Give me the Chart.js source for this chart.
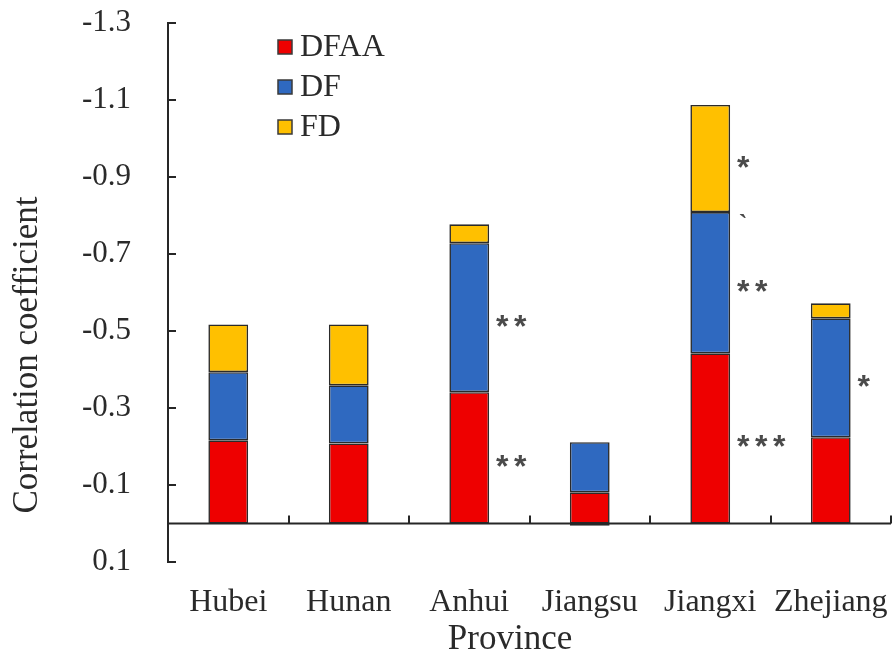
<!DOCTYPE html>
<html>
<head>
<meta charset="utf-8">
<title>Correlation coefficient by province</title>
<script src="https://cdn.jsdelivr.net/npm/chart.js@4/dist/chart.umd.min.js"></script>
<style>
  html, body { margin: 0; padding: 0; background: #ffffff; }
  #wrap { width: 893px; height: 656px; }
</style>
</head>
<body>
<div id="wrap"><canvas id="chart" width="893" height="656"></canvas></div>
<script>
// Provinces along the category axis
const provinces = ['Hubei', 'Hunan', 'Anhui', 'Jiangsu', 'Jiangxi', 'Zhejiang'];

// Correlation coefficient components, stacked from zero
const dfaa = [-0.216, -0.208, -0.341, -0.081, -0.442, -0.224];
const df   = [-0.177, -0.151, -0.387, -0.130, -0.367, -0.309];
const fd   = [-0.124, -0.158, -0.049,  0.006, -0.278, -0.039];

// Significance marks next to each segment
const sigDFAA = ['', '', '**', '', '***', ''];
const sigDF   = ['', '', '**', '', '**',  '*'];
const sigFD   = ['', '', '',   '', '*',   ''];
const edgeMarks = ['', '', '', '', '`', ''];

// Value axis tick labels (axis runs from 0.1 at the bottom to -1.3 at the top)
const yTicks = [0.1, -0.1, -0.3, -0.5, -0.7, -0.9, -1.1, -1.3];

const serif = '"Liberation Serif", "Times New Roman", serif';
const ink = '#262626';
const textInk = '#2a2a2a';

const sigByDataset = [sigDFAA, sigDF, sigFD];

// Axis lines, inner tick marks, zero line, legend, titles and significance marks
const decorations = {
  id: 'decorations',
  afterDatasetsDraw(chart) {
    const { ctx, chartArea: a, scales: { x, y } } = chart;
    ctx.save();

    ctx.strokeStyle = ink;
    ctx.lineWidth = 2;
    ctx.lineCap = 'butt';
    const y0 = y.getPixelForValue(0);
    ctx.beginPath();
    // vertical axis line
    ctx.moveTo(a.left, y.getPixelForValue(yTicks[yTicks.length - 1]) - 1);
    ctx.lineTo(a.left, y.getPixelForValue(yTicks[0]) + 1);
    // inner tick marks on the value axis
    yTicks.forEach(v => {
      const py = Math.round(y.getPixelForValue(v));
      ctx.moveTo(a.left, py);
      ctx.lineTo(a.left + 8, py);
    });
    // zero line acting as category axis
    ctx.moveTo(a.left, y0);
    ctx.lineTo(a.right, y0);
    // category separators pointing up
    for (let i = 0; i < provinces.length; i++) {
      const px = Math.round(x.getPixelForValue(i + 0.5));
      ctx.moveTo(px, y0);
      ctx.lineTo(px, y0 - 8);
    }
    ctx.stroke();

    // significance marks
    ctx.fillStyle = '#4a4a4a';
    ctx.font = 'bold 32px "Liberation Sans", Arial, sans-serif';
    ctx.textAlign = 'center';
    ctx.textBaseline = 'alphabetic';
    sigByDataset.forEach((marks, d) => {
      const meta = chart.getDatasetMeta(d);
      marks.forEach((m, j) => {
        if (!m) return;
        const el = meta.data[j];
        const cx = el.x + el.width / 2 + 13;
        const cy = (el.y + el.base) / 2;
        for (let k = 0; k < m.length; k++) {
          ctx.fillText(m[k], cx + k * 18, cy + 19);
        }
      });
    });
    // small mark at the DF / FD boundary
    const dfMeta = chart.getDatasetMeta(1);
    edgeMarks.forEach((m, j) => {
      if (!m) return;
      const el = dfMeta.data[j];
      ctx.font = 'bold 26px "Liberation Serif", serif';
      ctx.fillText(m, el.x + el.width / 2 + 13, el.y + 20);
    });

    // legend
    ctx.textAlign = 'left';
    ctx.textBaseline = 'middle';
    ctx.font = '32px ' + serif;
    chart.data.datasets.forEach((ds, i) => {
      const cy = 47 + i * 40;
      ctx.fillStyle = ds.backgroundColor;
      ctx.fillRect(278, cy - 7, 14, 14);
      ctx.strokeStyle = '#3a3a3a';
      ctx.lineWidth = 1.5;
      ctx.strokeRect(278, cy - 7, 14, 14);
      ctx.fillStyle = textInk;
      ctx.fillText(ds.label, 300, cy + 1);
    });

    // axis titles
    ctx.fillStyle = textInk;
    ctx.font = '35px ' + serif;
    ctx.textAlign = 'center';
    ctx.textBaseline = 'alphabetic';
    ctx.fillText('Province', 510, 649);
    ctx.save();
    ctx.translate(37, 355);
    ctx.rotate(-Math.PI / 2);
    ctx.fillText('Correlation coefficient', 0, 0);
    ctx.restore();

    ctx.restore();
  }
};

const segmentBorder = '#2a2a2a';

new Chart(document.getElementById('chart'), {
  type: 'bar',
  data: {
    labels: provinces,
    datasets: [
      { label: 'DFAA', data: dfaa, backgroundColor: '#EE0000' },
      { label: 'DF',   data: df,   backgroundColor: '#2F69C0' },
      { label: 'FD',   data: fd,   backgroundColor: '#FFC000' }
    ].map(ds => Object.assign(ds, {
      borderColor: segmentBorder,
      borderWidth: 1.6,
      borderSkipped: false,
      barPercentage: 0.33,
      categoryPercentage: 1.0
    }))
  },
  options: {
    responsive: false,
    animation: false,
    devicePixelRatio: 1,
    layout: { padding: { top: 23, right: 2, left: 0, bottom: 0 } },
    plugins: {
      legend: { display: false },
      tooltip: { enabled: false }
    },
    scales: {
      x: {
        stacked: true,
        grid: { display: false },
        border: { display: false },
        ticks: {
          color: textInk,
          font: { family: serif, size: 32 },
          padding: 13,
          maxRotation: 0,
          autoSkip: false
        },
        afterFit(scale) {
          scale.height = 94;
          scale.paddingLeft = 0;
          scale.paddingRight = 0;
        }
      },
      y: {
        stacked: true,
        reverse: true,
        min: -1.3,
        max: 0.1,
        grid: { display: false },
        border: { display: false },
        afterBuildTicks(scale) {
          scale.ticks = yTicks.map(v => ({ value: v }));
        },
        ticks: {
          color: textInk,
          font: { family: serif, size: 31 },
          padding: 29,
          callback: v => Number(v).toFixed(1)
        },
        afterFit(scale) {
          scale.width = 168;
          scale.paddingTop = 0;
          scale.paddingBottom = 0;
        }
      }
    }
  },
  plugins: [decorations]
});
</script>
</body>
</html>
